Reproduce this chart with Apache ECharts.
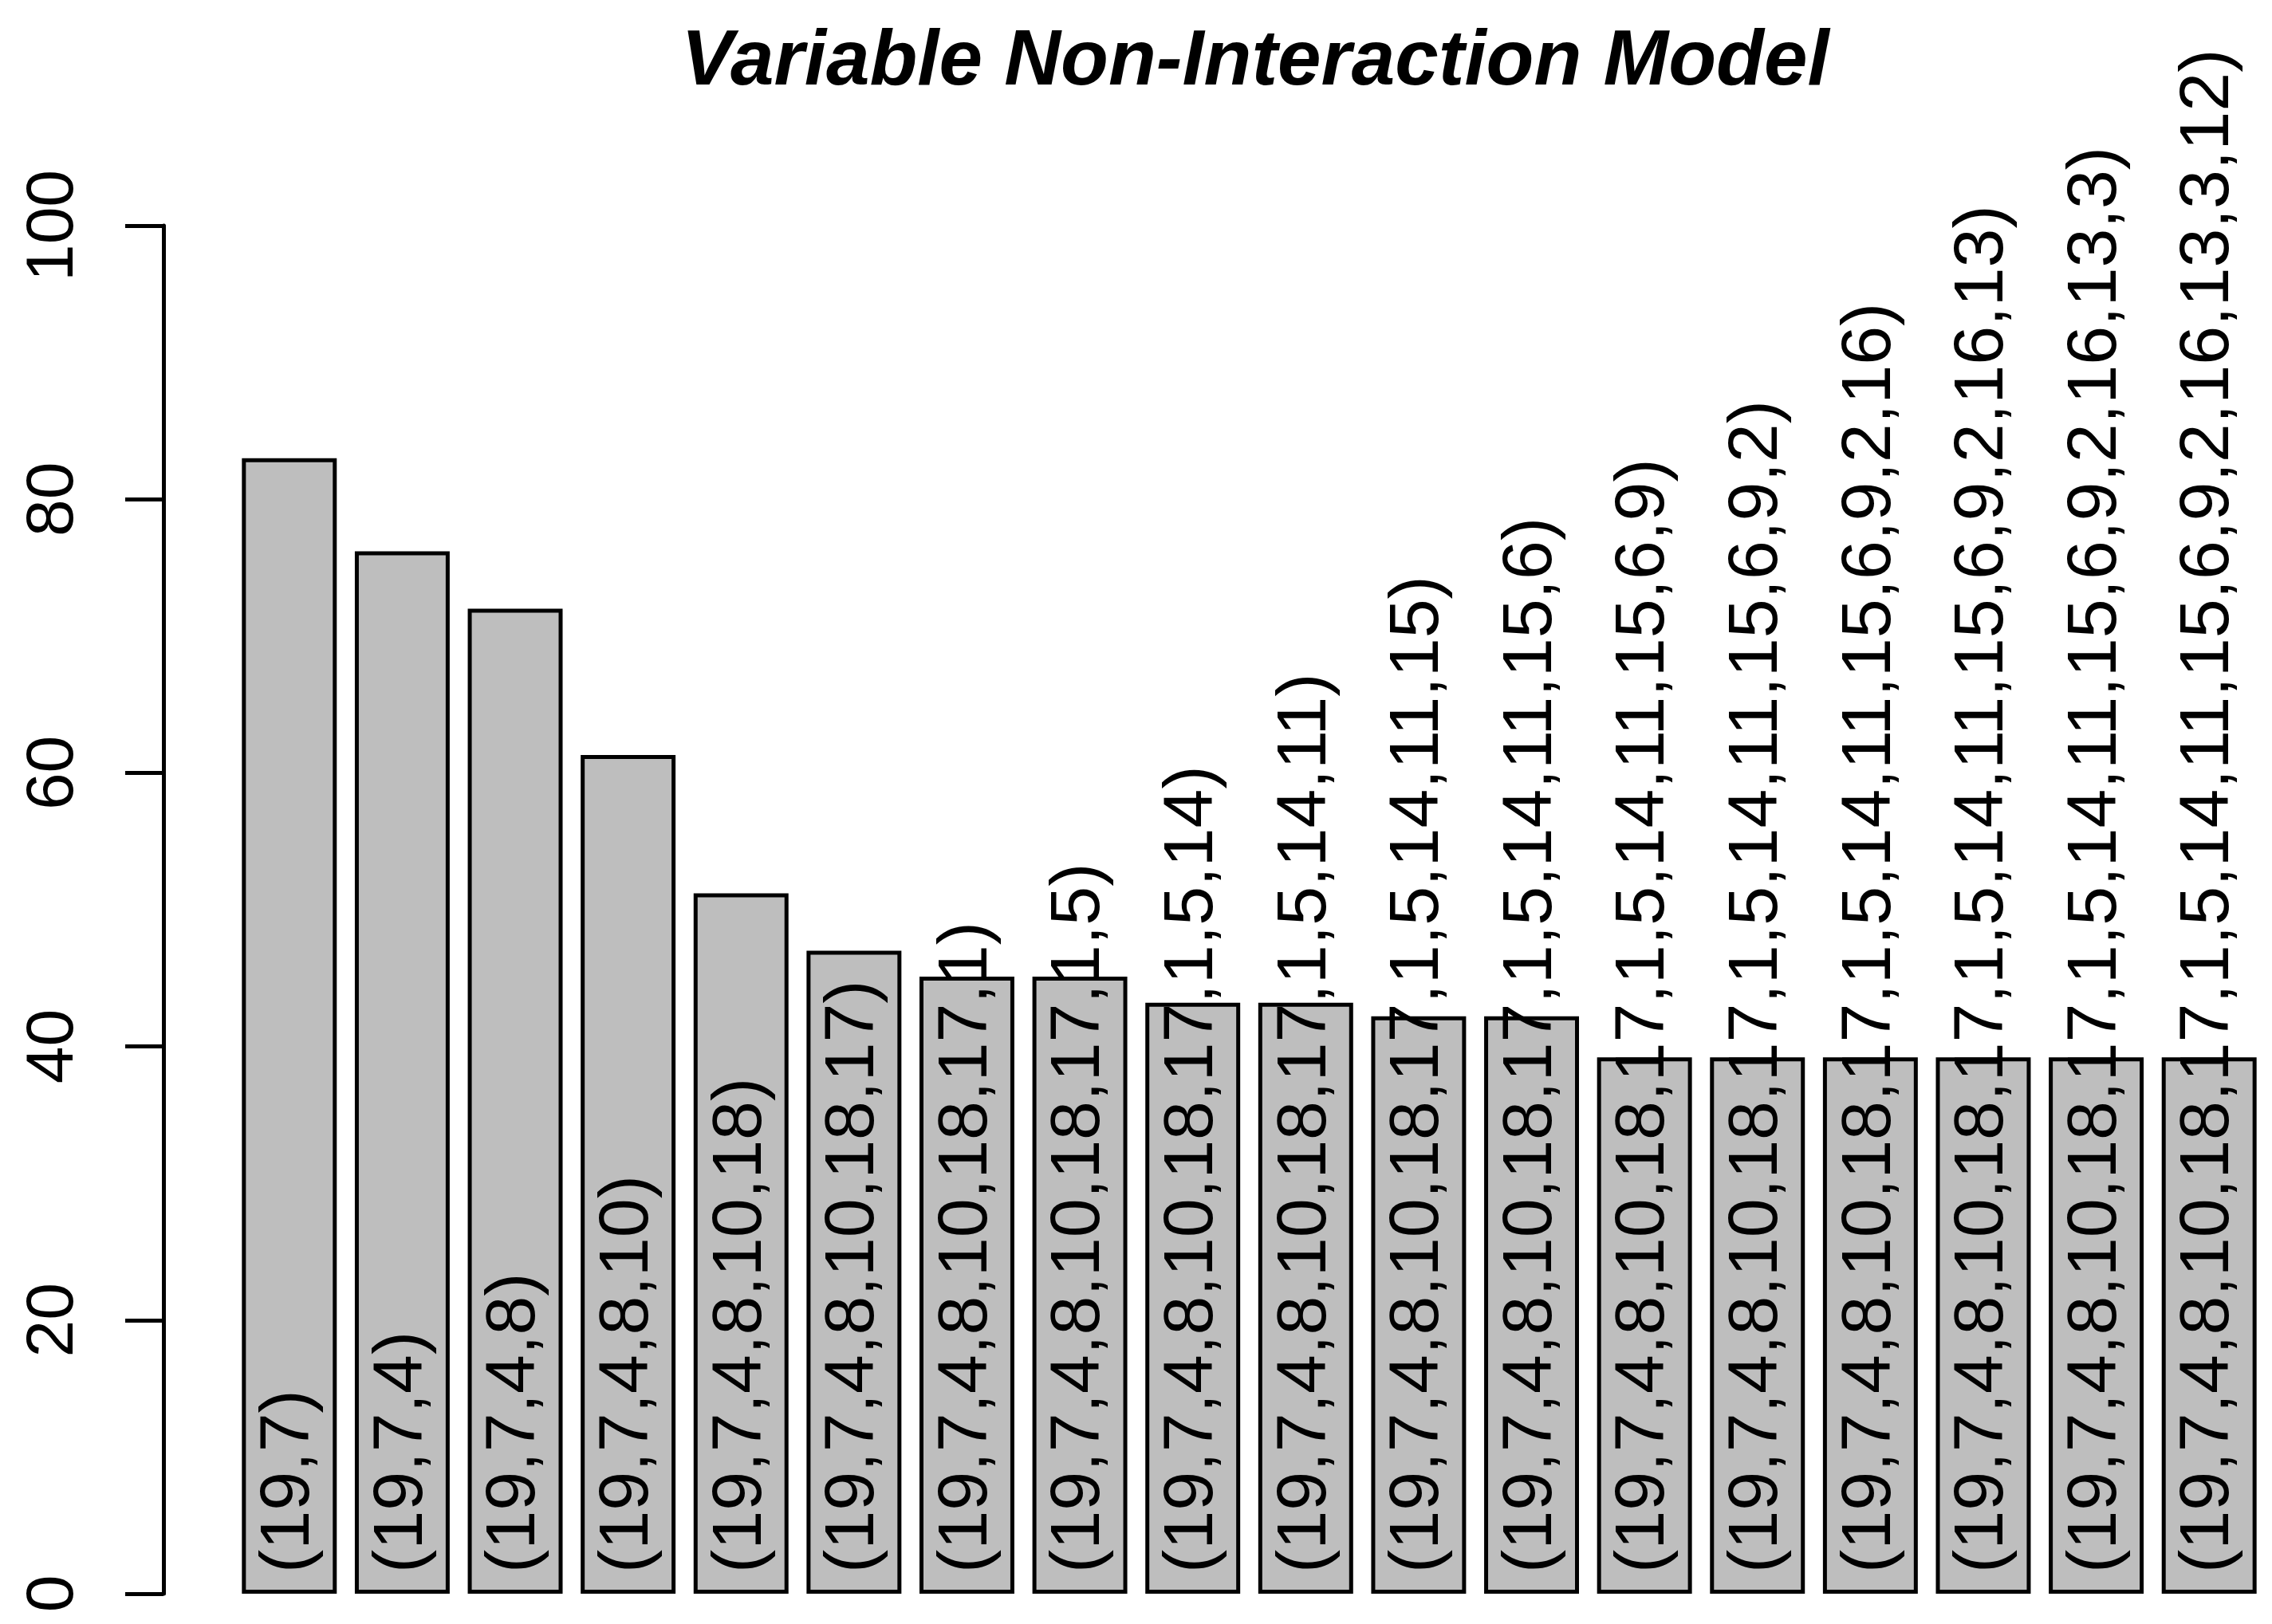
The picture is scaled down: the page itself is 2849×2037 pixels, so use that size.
<!DOCTYPE html>
<html>
<head>
<meta charset="utf-8">
<script src="https://cdn.jsdelivr.net/npm/echarts@6/dist/echarts.min.js"></script>
<style>
html,body{margin:0;padding:0;background:#fff;}
#chart{width:2849px;height:2037px;}
</style>
</head>
<body>
<div id="chart"></div>
<script>
// ---- data ----
const titleText = 'Variable Non-Interaction Model';
const categories = [
  '(19,7)',
  '(19,7,4)',
  '(19,7,4,8)',
  '(19,7,4,8,10)',
  '(19,7,4,8,10,18)',
  '(19,7,4,8,10,18,17)',
  '(19,7,4,8,10,18,17,1)',
  '(19,7,4,8,10,18,17,1,5)',
  '(19,7,4,8,10,18,17,1,5,14)',
  '(19,7,4,8,10,18,17,1,5,14,11)',
  '(19,7,4,8,10,18,17,1,5,14,11,15)',
  '(19,7,4,8,10,18,17,1,5,14,11,15,6)',
  '(19,7,4,8,10,18,17,1,5,14,11,15,6,9)',
  '(19,7,4,8,10,18,17,1,5,14,11,15,6,9,2)',
  '(19,7,4,8,10,18,17,1,5,14,11,15,6,9,2,16)',
  '(19,7,4,8,10,18,17,1,5,14,11,15,6,9,2,16,13)',
  '(19,7,4,8,10,18,17,1,5,14,11,15,6,9,2,16,13,3)',
  '(19,7,4,8,10,18,17,1,5,14,11,15,6,9,2,16,13,3,12)'
];
const values = [83, 76.2, 72, 61.3, 51.2, 47, 45.1, 45.1, 43.2, 43.2, 42.2, 42.2, 39.2, 39.2, 39.2, 39.2, 39.2, 39.2];
const yTicks = [0, 20, 40, 60, 80, 100];

// ---- chart ----
const chart = echarts.init(document.getElementById('chart'));
const FONT = '"Liberation Sans", Arial, Helvetica, sans-serif';
chart.setOption({
  animation: false,
  backgroundColor: '#ffffff',
  title: {
    text: titleText,
    left: 1569,
    top: 25,
    textAlign: 'center',
    textStyle: {
      fontFamily: FONT,
      fontSize: 98,
      fontWeight: 'bold',
      fontStyle: 'italic',
      color: '#000'
    }
  },
  grid: { left: 292, right: 8, top: 283, bottom: 38, containLabel: false },
  xAxis: {
    type: 'category',
    data: categories,
    boundaryGap: true,
    axisLine: { show: false },
    axisTick: { show: false },
    axisLabel: { show: false },
    splitLine: { show: false }
  },
  yAxis: {
    type: 'value',
    min: yTicks[0],
    max: yTicks[yTicks.length - 1],
    interval: 20,
    offset: 87,
    axisLine: { show: true, lineStyle: { color: '#000', width: 5 } },
    axisTick: { show: true, inside: false, length: 48, lineStyle: { color: '#000', width: 5 } },
    axisLabel: {
      show: true,
      rotate: 90,
      margin: 95,
      fontFamily: FONT,
      fontSize: 84,
      color: '#000'
    },
    splitLine: { show: false }
  },
  series: [{
    type: 'bar',
    data: values,
    barWidth: '84%',
    itemStyle: { color: '#bebebe', borderColor: '#000', borderWidth: 5 },
    label: {
      show: true,
      position: 'insideBottom',
      distance: 26,
      rotate: 90,
      align: 'left',
      verticalAlign: 'middle',
      formatter: (p) => p.name,
      fontFamily: FONT,
      fontSize: 88,
      color: '#000'
    }
  }]
});
</script>
</body>
</html>
